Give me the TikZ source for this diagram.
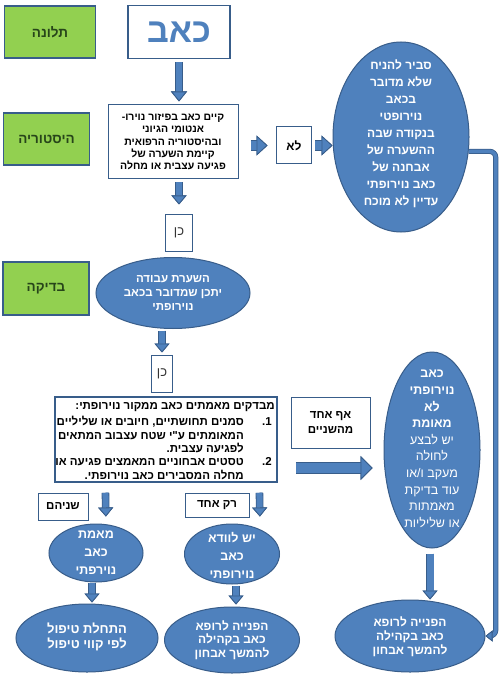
\documentclass[tikz,border=0pt]{standalone}
\usepackage{fontspec}
\usetikzlibrary{shapes.geometric,arrows.meta,calc}
\TeXXeTstate=1
\newfontfamily\hebfont[Script=Hebrew]{Liberation Sans}
\newfontfamily\latfont{Liberation Sans}
\newcommand{\heb}[1]{\beginR #1\endR}
\newcommand{\setfs}[2]{\fontsize{#1pt}{#2pt}\selectfont}
\definecolor{blueA}{HTML}{4F81BD}
\definecolor{blueD}{HTML}{385D8A}
\definecolor{greenF}{HTML}{92D050}
\definecolor{greenT}{HTML}{27451A}
\begin{document}
\begin{tikzpicture}[x=1pt,y=-1pt,
  gbox/.style={rectangle, draw=blueD, line width=1.3pt, fill=greenF, text=greenT, inner sep=0pt, font=\hebfont\bfseries\setfs{13.5}{15}},
  wbox/.style={rectangle, draw=blueD, line width=1pt, fill=white, inner sep=0pt, align=center, font=\hebfont\bfseries\setfs{11.5}{14}},
  bell/.style={ellipse, draw=blueD, line width=1pt, fill=blueA, inner sep=0pt},
  etxt/.style={text=white, align=center, inner sep=0pt, font=\hebfont\bfseries\setfs{12}{17}},
  ltxt/.style={text=black, inner sep=0pt, font=\hebfont\bfseries\setfs{11.5}{13.5}},
  barrow/.style n args={4}{draw=blueA, line width=#1,
     -{Triangle[width=#3,length=#4,line width=0.8pt,color=blueD,fill=blueA]},
     preaction={draw=blueD, line width=#2,
     -{Triangle[width=#3,length=#4,line width=0.8pt,color=blueD,fill=blueD]}}},
  conn/.style={draw=blueA, line width=3.6pt, rounded corners=6pt,
     -{Triangle[width=11pt,length=7pt,line width=0.8pt,color=blueD,fill=blueA]},
     preaction={draw=blueD, line width=5.2pt,
     -{Triangle[width=11pt,length=7pt,line width=0.8pt,color=blueD,fill=blueD]}}}
]
\useasboundingbox (0,0) rectangle (500,676);
\fill[white] (0,0) rectangle (500,676);

% left labels
\node[gbox, minimum width=91pt, minimum height=52pt] (compl) at (50,32) {\heb{תלונה}};
\node[gbox, minimum width=86pt, minimum height=52pt] (histlbl) at (46.5,139) {\heb{היסטוריה}};
\node[gbox, minimum width=86pt, minimum height=53pt] (examlbl) at (46,288.5) {\heb{בדיקה}};

% top pain box
\node[rectangle, draw=blueD, line width=1.8pt, fill=white, inner sep=0pt, text=blueA,
      minimum width=102pt, minimum height=53pt, font=\hebfont\bfseries\setfs{34}{38}] (pain) at (179,32) {\heb{כאב}};

% history box
\node[wbox, minimum width=130pt, minimum height=74pt, font=\hebfont\bfseries\setfs{10.5}{12.3}] (hist) at (173,142)
  {\heb{קיים כאב בפיזור נוירו-}\\\heb{אנטומי הגיוני}\\\heb{ובהיסטוריה הרפואית}\\\heb{קיימת השערה  של}\\\heb{פגיעה עצבית או מחלה}};

% no box
\node[wbox, minimum width=35pt, minimum height=37pt, font=\hebfont\bfseries\setfs{12}{14}] (no) at (294,145.5) {\heb{לא}};

% right ellipse 1
\node[bell, minimum width=136pt, minimum height=190pt] (ell1) at (401,137) {};
\node[etxt, font=\hebfont\bfseries\setfs{12}{17}] (ell1t) at (401,134) {\heb{סביר להניח}\\\heb{שלא מדובר}\\\heb{בכאב}\\\heb{נוירופטי}\\\heb{בנקודה  שבה}\\\heb{ההשערה של}\\\heb{אבחנה של}\\\heb{כאב נוירופתי}\\\heb{עדיין לא מוכח}};

% yes box 1
\node[wbox, minimum width=27pt, minimum height=37pt, font=\hebfont\setfs{13}{15}, text=black!80] (yes1) at (179,233) {\heb{כן}};

% hypothesis ellipse
\node[bell, minimum width=154pt, minimum height=71pt] (hyp) at (173,293) {};
\node[etxt, font=\hebfont\bfseries\setfs{11.5}{13.8}] (hypt) at (173,293) {\heb{השערת עבודה}\\\heb{יתכן שמדובר בכאב}\\\heb{נוירופתי}};

% yes box 2
\node[wbox, minimum width=21pt, minimum height=37pt, font=\hebfont\setfs{13}{15}, text=black!80] (yes2) at (162,373.5) {\heb{כן}};

% test box
\node[rectangle, draw=blueD, line width=1.5pt, fill=white, minimum width=222pt, minimum height=85pt, inner sep=0pt] (test) at (166,439.5) {};
\node[ltxt, anchor=base east] (tl1) at (275,409) {\heb{מבדקים מאמתים כאב ממקור נוירופתי:}};
\node[ltxt, anchor=base east, font=\latfont\bfseries\setfs{11.5}{13.5}] (num1) at (272,425.5) {.1};
\node[ltxt, anchor=base east] (tl2) at (244,425.5) {\heb{סמנים תחושתיים, חיובים או שליליים}};
\node[ltxt, anchor=base east] (tl3) at (244,439) {\heb{המאומתים ע"י שטח עצבוב המתאים}};
\node[ltxt, anchor=base east] (tl4) at (244,452.5) {\heb{לפגיעה עצבית.}};
\node[ltxt, anchor=base east, font=\latfont\bfseries\setfs{11.5}{13.5}] (num2) at (272,465.5) {.2};
\node[ltxt, anchor=base east] (tl5) at (244,465.5) {\heb{טסטים אבחוניים המאמצים פגיעה או}};
\node[ltxt, anchor=base east] (tl6) at (244,479) {\heb{מחלה המסבירים כאב נוירופתי.}};

% none box
\node[wbox, minimum width=79pt, minimum height=51pt, font=\hebfont\bfseries\setfs{11.5}{15}] (none) at (330.5,422.5) {\heb{אף אחד}\\\heb{מהשניים}};

% right ellipse 2
\node[bell, minimum width=96pt, minimum height=196pt] (ell2) at (432,450) {};
\node[etxt, font=\hebfont\setfs{12.5}{16.6}] (ell2t) at (432,449) {{\bfseries\heb{כאב}}\\{\bfseries\heb{נוירופתי}}\\{\bfseries\heb{לא}}\\{\bfseries\heb{מאומת}}\\\heb{יש לבצע}\\\heb{לחולה}\\\heb{מעקב ו/או}\\\heb{עוד  בדיקת}\\\heb{מאמתות}\\\heb{או שליליות}};

% labels under test box
\node[wbox, minimum width=50pt, minimum height=27pt, font=\hebfont\bfseries\setfs{11.5}{14}] (both) at (63,506.5) {\heb{שניהם}};
\node[wbox, minimum width=64pt, minimum height=24pt, font=\hebfont\bfseries\setfs{11.5}{14}] (one) at (217,505) {\heb{רק אחד}};

% middle ellipses
\node[bell, minimum width=94pt, minimum height=58pt] (econf) at (96,553) {};
\node[etxt, font=\hebfont\bfseries\setfs{12.5}{18}] (econft) at (96,553) {\heb{מאמת}\\\heb{כאב}\\\heb{נוירפתי}};
\node[bell, minimum width=95pt, minimum height=60pt] (ever) at (232,554) {};
\node[etxt, font=\hebfont\bfseries\setfs{12.5}{18}] (evert) at (232,555) {\heb{יש לוודא}\\\heb{כאב}\\\heb{נוירופתי}};

% bottom ellipses
\node[bell, minimum width=142pt, minimum height=68pt] (etreat) at (87,638) {};
\node[etxt, font=\hebfont\bfseries\setfs{13}{15.5}] (etreatt) at (87,637) {\heb{התחלת טיפול}\\\heb{לפי קווי טיפול}};
\node[bell, minimum width=135pt, minimum height=66pt] (eref1) at (232,640) {};
\node[etxt, font=\hebfont\bfseries\setfs{12}{13.5}] (eref1t) at (232,640) {\heb{הפנייה לרופא}\\\heb{כאב בקהילה}\\\heb{להמשך אבחון}};
\node[bell, minimum width=150pt, minimum height=72pt] (eref2) at (410,636) {};
\node[etxt, font=\hebfont\bfseries\setfs{12}{14.2}] (eref2t) at (410,637) {\heb{הפנייה לרופא}\\\heb{כאב בקהילה}\\\heb{להמשך אבחון}};

% connectors
\draw[barrow={6pt}{7.6pt}{16pt}{10pt}, shorten <=3pt, shorten >=3pt] (pain.south) -- (pain.south |- hist.north);
\draw[barrow={9pt}{10.6pt}{20pt}{11pt}] ([xshift=12pt]hist.east |- no.west) -- ([xshift=-8.5pt]no.west);
\draw[barrow={9pt}{10.6pt}{20pt}{11pt}] ([xshift=3pt]no.east) -- (no.east -| ell1.west);
\draw[barrow={6pt}{7.6pt}{15pt}{9pt}, shorten <=3pt, shorten >=9.5pt] (hist.south -| yes1.north) -- (yes1.north);
\draw[barrow={6pt}{7.6pt}{15pt}{9pt}, shorten <=1.5pt, shorten >=2pt] (hyp.south -| yes2.north) -- (yes2.north);
\draw[barrow={6pt}{7.6pt}{15pt}{9pt}, shorten <=10pt, shorten >=7pt] ($(test.south west)+(51,0)$) -- ($(econf.north)+(10,0)$);
\draw[barrow={6pt}{7.6pt}{15pt}{9pt}, shorten <=10pt, shorten >=7pt] ($(test.south west)+(205,0)$) -- ($(ever.north)+(28,0)$);
\draw[barrow={10pt}{11.6pt}{24pt}{12pt}] ($(test.east)+(18,28.5)$) -- ($(ell2.west)+(-11,18)$);
\draw[barrow={6pt}{7.6pt}{15pt}{9pt}, shorten <=0pt, shorten >=1pt] ([xshift=-4pt]econf.south) -- ([xshift=-4pt]econf.south |- etreat.north);
\draw[barrow={6pt}{7.6pt}{15pt}{9pt}, shorten <=1pt, shorten >=2pt] ([xshift=4pt]ever.south) -- ([xshift=4pt]ever.south |- eref1.north);
\draw[barrow={7pt}{8.6pt}{15pt}{9pt}, shorten <=5pt] ([xshift=-2pt]ell2.south) -- ([xshift=-2pt]ell2.south |- eref2.north);
\draw[conn] (ell1.-12) -- ++(27,0) |- (eref2.east);
\end{tikzpicture}
\end{document}
